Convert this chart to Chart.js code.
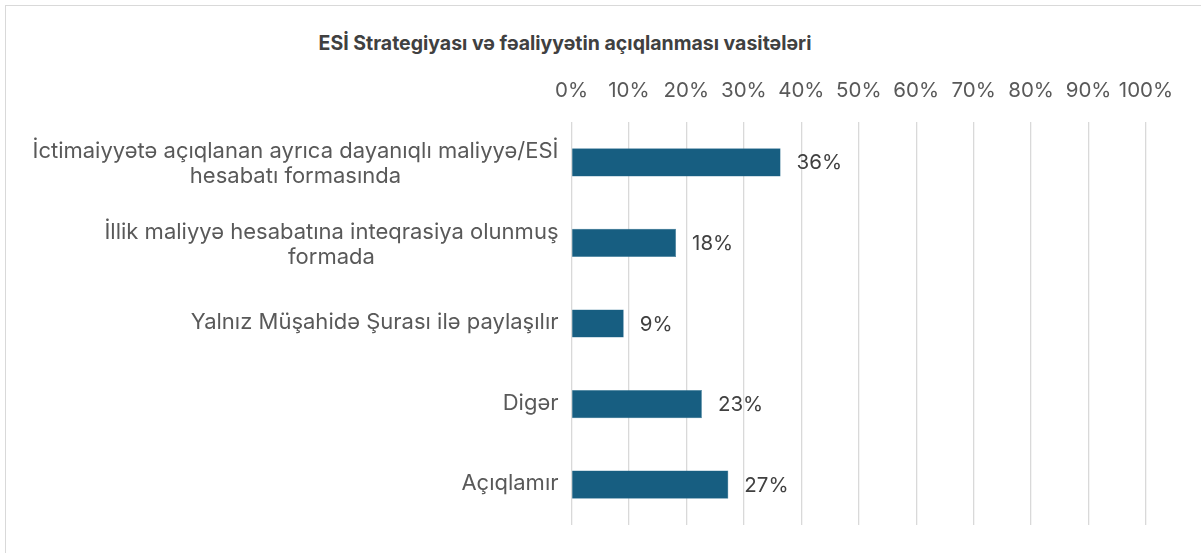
<!DOCTYPE html>
<html>
<head>
<meta charset="utf-8">
<script src="https://cdn.jsdelivr.net/npm/chart.js@4.4.1/dist/chart.umd.min.js"></script>
<style>
  html, body { margin: 0; padding: 0; background: #fff; overflow: hidden; }
  #frame {
    position: absolute; left: 5px; top: 5px; width: 1220px; height: 580px;
    border: 1.5px solid #d9d9d9; box-sizing: border-box;
  }
  #title {
    position: absolute; left: 0; top: 31px; width: 1130px; text-align: center;
    font: bold 19.5px Inter, "Open Sans", sans-serif; color: #404040;
  }
  #chartBox { position: absolute; left: 0; top: 0; width: 1201px; height: 553px; }
</style>
</head>
<body>
<div id="frame"></div>
<div id="title">ESİ Strategiyası və fəaliyyətin açıqlanması vasitələri</div>
<div id="chartBox"><canvas id="barChart" width="1201" height="553"></canvas></div>
<script>
// categories (multi-line labels as arrays)
const categories = [
    ['İctimaiyyətə açıqlanan ayrıca dayanıqlı maliyyə/ESİ', 'hesabatı formasında'],
    ['İllik maliyyə hesabatına inteqrasiya olunmuş', 'formada'],
    'Yalnız Müşahidə Şurası ilə paylaşılır',
    'Digər',
    'Açıqlamır'
];
// share of respondents, %
const shares = [36.4, 18.2, 9.1, 22.7, 27.3];
const valueLabels = ['36%', '18%', '9%', '23%', '27%'];

const barColor = '#175e81';
const fontFamily = 'Inter, "Open Sans", sans-serif';

// write the value next to each bar
const valueLabelPlugin = {
    id: 'valueLabels',
    afterDatasetsDraw(chart) {
        const ctx = chart.ctx;
        const meta = chart.getDatasetMeta(0);
        ctx.save();
        ctx.font = '20.5px ' + fontFamily;
        ctx.fillStyle = '#404040';
        ctx.textAlign = 'left';
        ctx.textBaseline = 'middle';
        meta.data.forEach((bar, i) => {
            ctx.fillText(valueLabels[i], bar.x + 16, bar.y + 1);
        });
        ctx.restore();
    }
};

// category labels: block right-aligned to the axis, lines centred inside the block (like Excel)
const categoryLabelPlugin = {
    id: 'categoryLabels',
    afterDraw(chart) {
        const ctx = chart.ctx;
        const yScale = chart.scales.y;
        const right = chart.chartArea.left - 13;
        const lineH = 25;
        ctx.save();
        ctx.font = '22px ' + fontFamily;
        ctx.fillStyle = '#595959';
        ctx.textAlign = 'center';
        ctx.textBaseline = 'middle';
        categories.forEach((label, i) => {
            const lines = Array.isArray(label) ? label : [label];
            const maxW = Math.max(...lines.map(l => ctx.measureText(l).width));
            const cx = right - maxW / 2;
            const cy = yScale.getPixelForValue(i) + (lines.length > 1 ? 2 : -1);
            const y0 = cy - (lines.length - 1) * lineH / 2;
            lines.forEach((l, j) => ctx.fillText(l, cx, y0 + j * lineH));
        });
        ctx.restore();
    }
};

const ctx = document.getElementById('barChart').getContext('2d');
const myChart = new Chart(ctx, {
    type: 'bar',
    data: {
        labels: categories,
        datasets: [{
            data: shares,
            backgroundColor: barColor,
            borderColor: '#3f7c9a',
            borderWidth: 0.5,
            barPercentage: 0.35,
            categoryPercentage: 1.0
        }]
    },
    options: {
        indexAxis: 'y',
        responsive: false,
        animation: false,
        layout: { padding: { left: 0, right: 55, top: 0, bottom: 28 } },
        plugins: {
            legend: { display: false },
            tooltip: { enabled: false }
        },
        scales: {
            x: {
                position: 'top',
                min: 0,
                max: 100,
                ticks: {
                    stepSize: 10,
                    padding: 19,
                    maxRotation: 0,
                    minRotation: 0,
                    autoSkip: false,
                    color: '#595959',
                    font: { family: fontFamily, size: 20.5 },
                    callback: v => v + '%'
                },
                grid: { color: '#d9d9d9', lineWidth: 1.3, drawTicks: false },
                border: { display: false },
                afterFit: scale => { scale.height = 122; }
            },
            y: {
                ticks: { display: false },
                grid: { display: false },
                border: { display: false },
                afterFit: scale => { scale.width = 571.5; }
            }
        }
    },
    plugins: [valueLabelPlugin, categoryLabelPlugin]
});
</script>
</body>
</html>
